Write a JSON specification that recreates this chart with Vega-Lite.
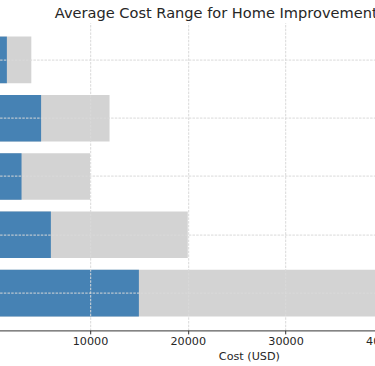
{
  "$schema": "https://vega.github.io/schema/vega-lite/v6.json",
  "width": 513.4,
  "height": 307.8,
  "autosize": {"type": "none"},
  "padding": {"left": -7.8, "top": 22.6, "right": 0, "bottom": 35.6},
  "background": "white",
  "config": {"font": "DejaVu Sans", "view": {"stroke": null}},
  "title": {
    "text": "Average Cost Range for Home Improvement Projects",
    "anchor": "start",
    "frame": "group",
    "dx": 62.6,
    "dy": 14.5,
    "fontSize": 14.6,
    "fontWeight": "normal",
    "color": "#262626",
    "font": "DejaVu Sans",
    "baseline": "alphabetic",
    "offset": 5
  },
  "data": {
    "values": [
      {"project": "Interior Painting", "min": 1500, "max": 4000},
      {"project": "Roof Replacement", "min": 5000, "max": 12000},
      {"project": "Window Replacement", "min": 3000, "max": 10000},
      {"project": "Bathroom Remodel", "min": 6000, "max": 20000},
      {"project": "Kitchen Remodel", "min": 15000, "max": 50000}
    ]
  },
  "encoding": {
    "y": {
      "field": "project",
      "type": "nominal",
      "sort": null,
      "scale": {"paddingInner": 0.2, "paddingOuter": 0.24},
      "axis": {
        "title": null,
        "grid": true,
        "bandPosition": 0.5,
        "gridDash": [2.5, 1.2],
        "gridColor": "#d9d9d9",
        "gridWidth": 1,
        "zindex": 1,
        "domain": false,
        "ticks": true,
        "labelFontSize": 11
      }
    }
  },
  "layer": [
    {
      "mark": {"type": "bar", "color": "#d3d3d3"},
      "encoding": {
        "x": {
          "field": "max",
          "type": "quantitative",
          "scale": {"domain": [0, 52500], "nice": false, "zero": true},
          "axis": {
            "title": "Cost (USD)",
            "values": [10000, 20000, 30000, 40000, 50000],
            "format": "d",
            "grid": true,
            "gridDash": [2.5, 1.2],
            "gridColor": "#d9d9d9",
            "gridWidth": 1,
            "zindex": 1,
            "domainColor": "#333333",
            "domainWidth": 1,
            "tickColor": "#333333",
            "tickSize": 3.5,
            "labelPadding": 2,
            "labelFontSize": 11.2,
            "labelColor": "#262626",
            "titleFontSize": 11.2,
            "titleFontWeight": "normal",
            "titleColor": "#262626",
            "titlePadding": 3
          }
        }
      }
    },
    {
      "mark": {"type": "bar", "color": "#4682b4"},
      "encoding": {
        "x": {"field": "min", "type": "quantitative"}
      }
    }
  ]
}
